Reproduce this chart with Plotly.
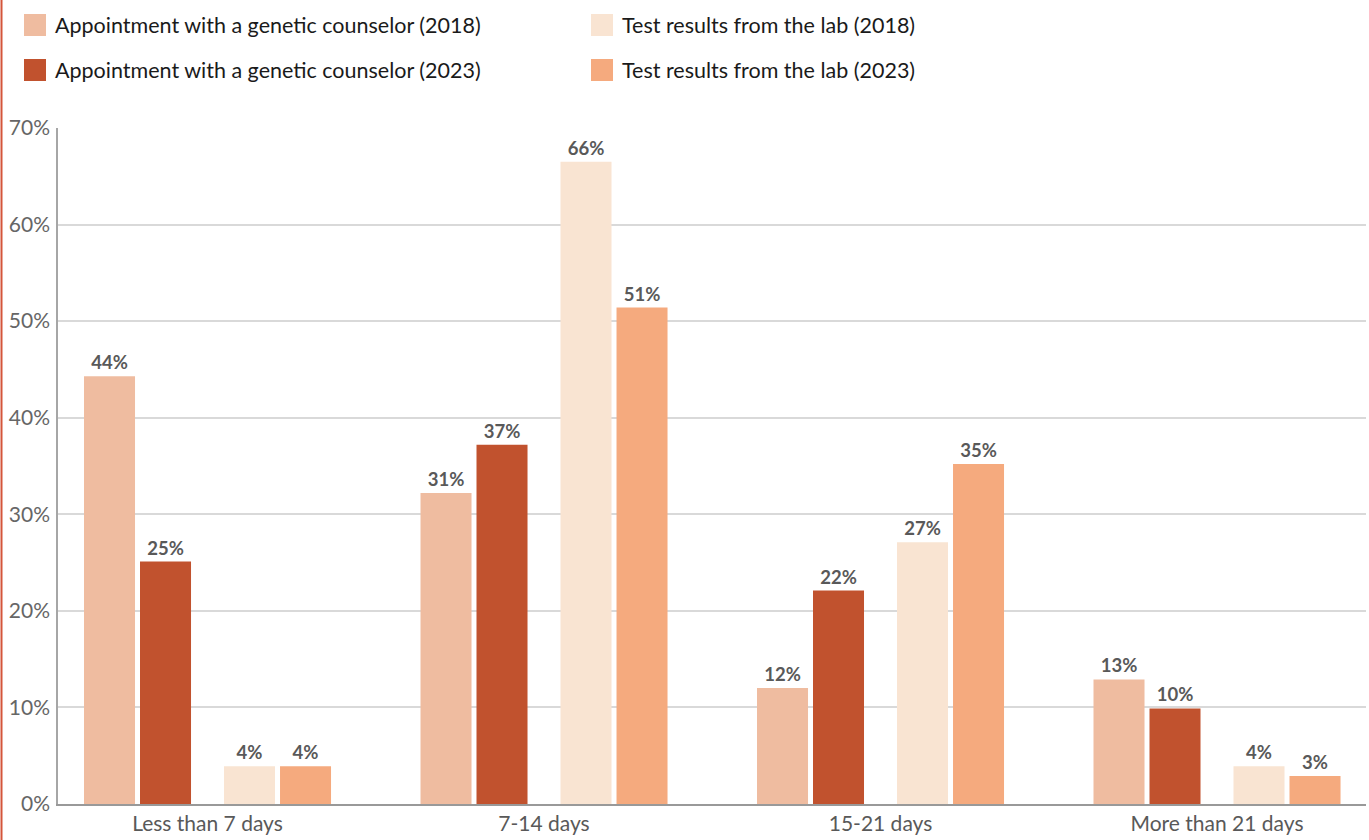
import plotly.graph_objects as go

categories = ["Less than 7 days", "7-14 days", "15-21 days", "More than 21 days"]
series_names = [
    "Appointment with a genetic counselor (2018)",
    "Appointment with a genetic counselor (2023)",
    "Test results from the lab (2018)",
    "Test results from the lab (2023)",
]
appt_2018 = [44.3, 32.2, 12.0, 12.9]
appt_2023 = [25.1, 37.2, 22.1, 9.9]
lab_2018 = [3.9, 66.5, 27.1, 3.9]
lab_2023 = [3.9, 51.4, 35.2, 2.9]
labels_appt_2018 = ["44%", "31%", "12%", "13%"]
labels_appt_2023 = ["25%", "37%", "22%", "10%"]
labels_lab_2018 = ["4%", "66%", "27%", "4%"]
labels_lab_2023 = ["4%", "51%", "35%", "3%"]

colors = ["#EFBCA0", "#C1522E", "#F9E4D2", "#F5AA7E"]
values = [appt_2018, appt_2023, lab_2018, lab_2023]
labels = [labels_appt_2018, labels_appt_2023, labels_lab_2018, labels_lab_2023]

W, H = 1369, 840
ML, MR, MT, MB = 58, 3, 128, 36
PW = W - ML - MR
PH = H - MT - MB

xpos = list(range(len(categories)))
bar_w = 0.1516
offsets = [-0.367, -0.2006, 0.049, 0.2155]

fig = go.Figure()
for i in range(4):
    fig.add_trace(go.Bar(
        x=xpos, y=values[i], name=series_names[i],
        width=bar_w, offset=offsets[i],
        marker=dict(color=colors[i], line=dict(width=0)),
        text=labels[i], textposition="outside",
        textfont=dict(family="Lato", size=18.5, color="#595959", weight="bold"),
        cliponaxis=False, showlegend=False,
    ))

def px_x(p):
    return (p - ML) / PW

def px_y(p):
    return (H - MB - p) / PH

shapes = []
annotations = []
legend_pos = [(24, 25), (24, 70), (591, 25), (591, 70)]
for i, (lx, ly) in enumerate(legend_pos):
    shapes.append(dict(type="rect", xref="paper", yref="paper",
                       x0=px_x(lx), x1=px_x(lx + 22), y0=px_y(ly + 11), y1=px_y(ly - 11),
                       fillcolor=colors[i], line=dict(width=0)))
    annotations.append(dict(xref="paper", yref="paper", x=px_x(lx + 29), y=px_y(ly),
                            xanchor="left", yanchor="middle", showarrow=False,
                            text=series_names[i],
                            font=dict(family="Lato", size=21.5, color="#1a1a1a")))

# red left border line
shapes.append(dict(type="line", xref="paper", yref="paper",
                   x0=px_x(1.5), x1=px_x(1.5), y0=px_y(H), y1=px_y(0),
                   line=dict(color="#D4553A", width=2)))

fig.update_layout(
    width=W, height=H,
    margin=dict(l=ML, r=MR, t=MT, b=MB),
    paper_bgcolor="white", plot_bgcolor="white",
    barmode="overlay",
    shapes=shapes, annotations=annotations,
    font=dict(family="Lato", color="#595959"),
    xaxis=dict(range=[-0.4443, 3.4428], tickmode="array", tickvals=xpos, ticktext=categories,
               showgrid=False, zeroline=False, showline=True, linecolor="#999999", linewidth=2,
               tickfont=dict(family="Lato", size=21, color="#595959"), ticks=""),
    yaxis=dict(range=[0, 70], dtick=10, ticksuffix="%", showgrid=True, gridcolor="#D9D9D9",
               gridwidth=1.5, zeroline=False, showline=True, linecolor="#A6A6A6", linewidth=1.5,
               tickfont=dict(family="Lato", size=21, color="#666666"), ticks="",
               ticklabelstandoff=2),
)

fig.write_html("out.html", config={"displayModeBar": False},
               post_script="document.body.style.margin='0';document.body.style.overflow='hidden';")
